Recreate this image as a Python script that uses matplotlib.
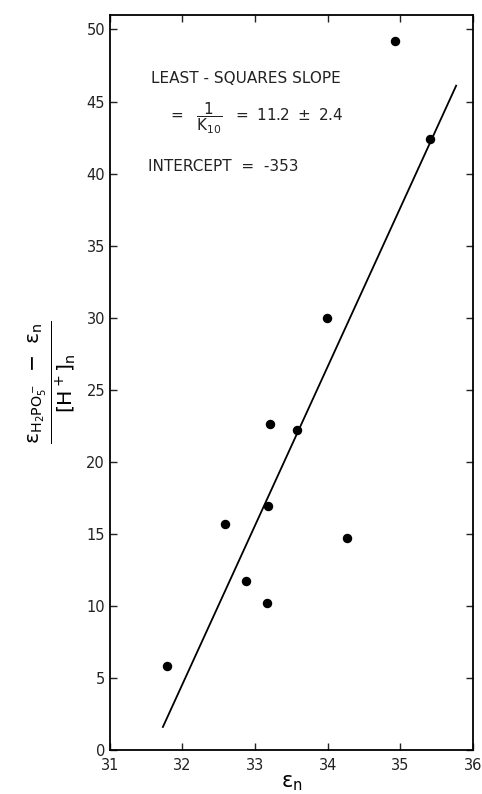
import matplotlib.pyplot as plt

plt.rcParams['font.family'] = ['DejaVu Sans']
plt.rcParams['mathtext.fontset'] = 'dejavusans'

# data
eps_n = [31.78, 32.58, 32.88, 33.17, 33.18, 33.21, 33.58, 33.99, 34.27, 34.93, 35.41]
ratio = [5.8, 15.7, 11.7, 10.2, 16.9, 22.6, 22.2, 30.0, 14.7, 49.2, 42.4]

# least-squares line end points
fit_x = [31.73, 35.77]
fit_y = [1.6, 46.1]

xticks = [31, 32, 33, 34, 35, 36]
yticks = [0, 5, 10, 15, 20, 25, 30, 35, 40, 45, 50]

fig = plt.figure(figsize=(4.82, 7.94), dpi=100)
ax = fig.add_axes([0.228, 0.0554, 0.753, 0.9256])

ax.plot(fit_x, fit_y, color='black', lw=1.3)
ax.plot(eps_n, ratio, 'o', color='black', ms=5.8)

ax.set_xlim(31, 36)
ax.set_ylim(0, 51)
ax.set_xticks(xticks)
ax.set_yticks(yticks)
ax.tick_params(direction='in', top=True, right=True, length=5, width=1,
               labelsize=10.5, colors='#222222')
ax.tick_params(axis='x', pad=6)
for s in ax.spines.values():
    s.set_linewidth(1.3)

ax.set_xlabel(r'$\mathrm{\epsilon}_{\mathrm{n}}$', fontsize=15, labelpad=0)
ax.set_ylabel(r'$\frac{\mathrm{\epsilon}_{\mathrm{H_2PO_5^-}}\ -\ \mathrm{\epsilon}_{\mathrm{n}}}'
              r'{\mathrm{[H^+]_n}}$',
              fontsize=21, labelpad=6)

ax.text(31.56, 46.3, 'LEAST - SQUARES SLOPE', fontsize=11, color='#222222')
ax.text(31.8, 43.6, r'$=\ \ \dfrac{1}{\mathrm{K}_{\mathrm{10}}}\ \ =\ \mathrm{11.2\ \pm\ 2.4}$',
        fontsize=11, color='#222222')
ax.text(31.53, 40.2, 'INTERCEPT  =  -353', fontsize=11, color='#222222')

fig.savefig('out.png', dpi=100)
